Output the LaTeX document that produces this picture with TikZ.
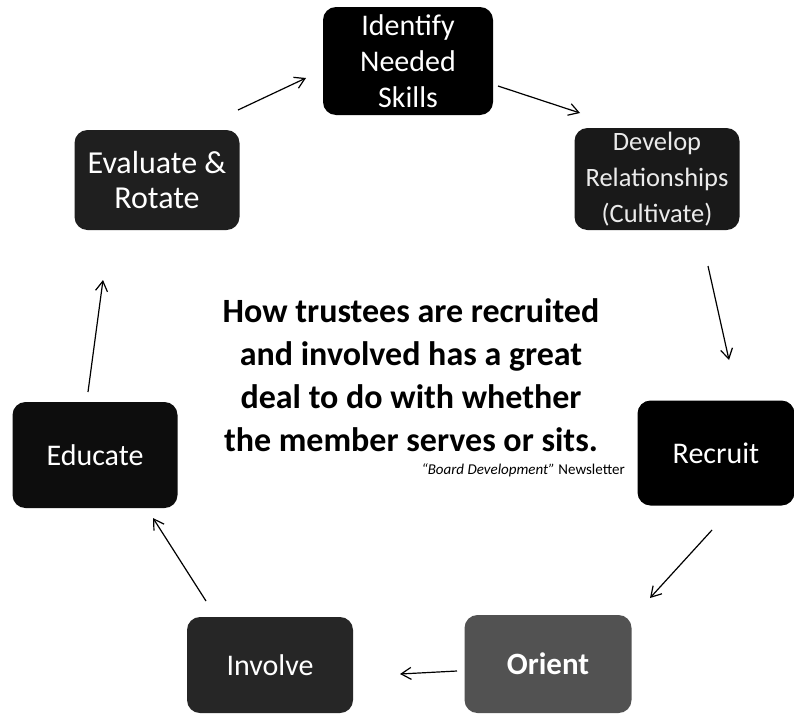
\documentclass[tikz,border=0pt]{standalone}
\usepackage{fontspec}
\setmainfont{Carlito}
\usetikzlibrary{arrows.meta}
\tikzset{
  stagebox/.style={rectangle, rounded corners=13pt, text=white, align=center, inner sep=0pt},
  cyclearrow/.style={draw=black, line width=1.2pt, -{Straight Barb[length=10pt,width=12pt,line width=1.2pt]}},
  boxfont/.style={font=\fontsize{30}{36}\selectfont}
}
\begin{document}
\begin{tikzpicture}[x=1pt,y=-1pt]
\useasboundingbox[fill=white] (0,0) rectangle (794,723);
% stages
\node[stagebox, boxfont, fill=black, minimum width=170pt, minimum height=108pt] (identify) at (408,61) {Identify\\Needed\\Skills};
\node[stagebox, font=\fontsize{26.5}{36}\selectfont, fill=black!90, text=white!92!black, minimum width=165pt, minimum height=102pt] (develop) at (657,179) {Develop\\Relationships\\(Cultivate)};
\node[stagebox, boxfont, fill=black, minimum width=157pt, minimum height=105pt] (recruit) at (716,453) {Recruit};
\node[stagebox, font=\bfseries\fontsize{31}{36}\selectfont, fill=black!68, minimum width=167pt, minimum height=98pt] (orient) at (548,664) {Orient};
\node[stagebox, boxfont, fill=black!85, minimum width=166pt, minimum height=96pt] (involve) at (270,665) {Involve};
\node[stagebox, boxfont, fill=black!95, minimum width=165pt, minimum height=106pt] (educate) at (95,455) {Educate};
\node[stagebox, font=\fontsize{32}{35}\selectfont, fill=black!88, minimum width=165pt, minimum height=100pt] (evaluate) at (157,180) {Evaluate \&\\Rotate};
% central quote
\node[align=center, inner sep=0pt, font=\bfseries\fontsize{34}{43}\selectfont] (quote) at (411,375)
  {How trustees are recruited\\and involved has a great\\deal to do with whether\\the member serves or sits.};
\node[anchor=base east, inner sep=0pt, font=\fontsize{15}{18}\selectfont] (source) at (625,474)
  {{\itshape “Board Development”} Newsletter};
% arrow end points
\coordinate (a1s) at (498,86);  \coordinate (a1e) at (580,113);
\coordinate (a2s) at (708,266); \coordinate (a2e) at (729,360);
\coordinate (a3s) at (712,530); \coordinate (a3e) at (650,598);
\coordinate (a4s) at (457,671); \coordinate (a4e) at (400,674);
\coordinate (a5s) at (206,601); \coordinate (a5e) at (153,518);
\coordinate (a6s) at (88,392);  \coordinate (a6e) at (103,280);
\coordinate (a7s) at (238,110); \coordinate (a7e) at (306,78);
\draw[cyclearrow] (a1s) -- (a1e);
\draw[cyclearrow] (a2s) -- (a2e);
\draw[cyclearrow] (a3s) -- (a3e);
\draw[cyclearrow] (a4s) -- (a4e);
\draw[cyclearrow] (a5s) -- (a5e);
\draw[cyclearrow] (a6s) -- (a6e);
\draw[cyclearrow] (a7s) -- (a7e);
\end{tikzpicture}
\end{document}
